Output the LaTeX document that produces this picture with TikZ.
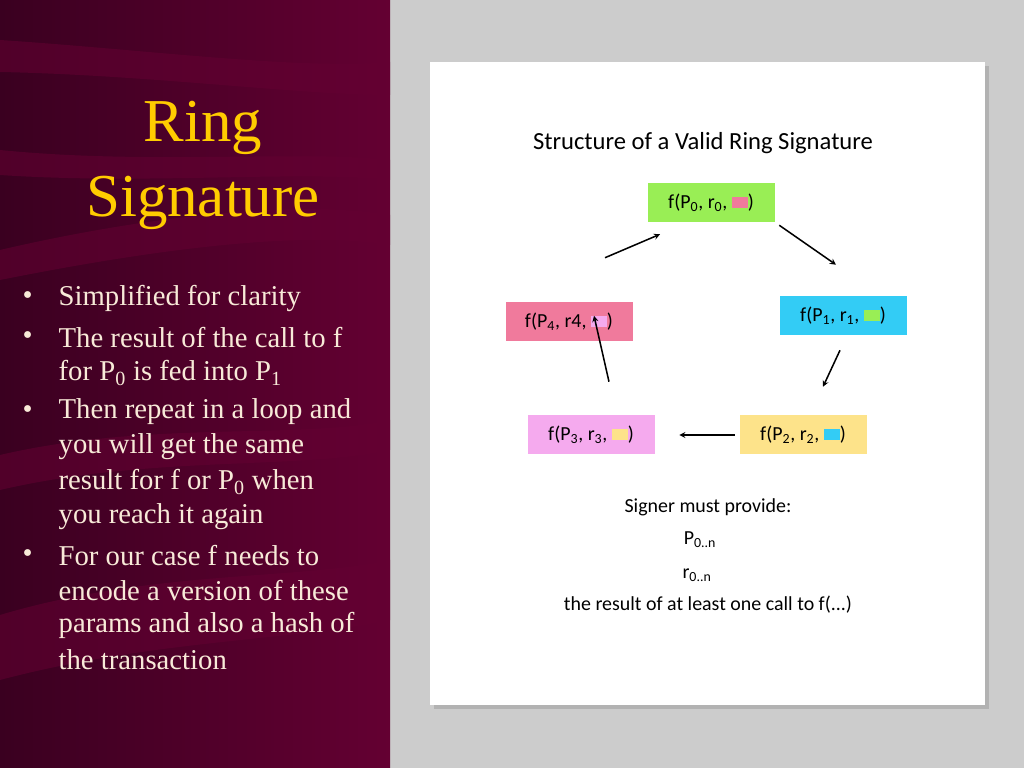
\documentclass[tikz,border=0pt]{standalone}
\usepackage{fontspec}
\setmainfont{Liberation Serif}
\newfontfamily\calibrifont{Carlito}
\usetikzlibrary{arrows,positioning}
\definecolor{maroondark}{HTML}{3A0020}
\definecolor{maroonlite}{HTML}{640032}
\definecolor{gold}{HTML}{FFCC00}
\definecolor{cream}{HTML}{F8EAD8}
\definecolor{greenbox}{HTML}{99EE55}
\definecolor{cyanbox}{HTML}{33CCF5}
\definecolor{pinkbox}{HTML}{F07A9C}
\definecolor{lilacbox}{HTML}{F5AAEE}
\definecolor{yellowbox}{HTML}{FDE38A}
\newcommand{\swatch}[1]{\textcolor{#1}{\rule[0.05em]{0.8em}{0.55em}}}
\newcommand{\fcall}[3]{f(P\textsubscript{#1}, r#2, \swatch{#3})}
\begin{document}
\begin{tikzpicture}[x=0.03cm,y=-0.03cm,->,>=stealth,line width=1.3pt,
  fbox/.style={draw=none,fill=#1,minimum width=3.81cm,minimum height=1.17cm,
    inner sep=0pt,font=\calibrifont\fontsize{17}{20}\selectfont,text=black},
  bullet/.style={anchor=west,text=cream,font=\fontsize{24.5}{29}\selectfont},
  note/.style={font=\calibrifont\fontsize{17}{20}\selectfont}]
  \useasboundingbox (0,0) rectangle (1024,768);
  % backgrounds
  \fill[gray!40] (390,0) rectangle (1024,768);
  \shade[left color=maroondark,right color=maroonlite,draw=none] (0,0) rectangle (390,768);
  \begin{scope}[draw=none,fill=maroonlite,opacity=0.55]
    \fill (0,40) .. controls (150,50) and (300,70) .. (390,62) -- (390,95) .. controls (300,95) and (150,75) .. (0,72) -- cycle;
    \fill (0,150) .. controls (150,165) and (300,150) .. (390,160) -- (390,180) .. controls (300,170) and (150,185) .. (0,175) -- cycle;
    \fill (0,250) .. controls (150,215) and (300,200) .. (390,215) -- (390,245) .. controls (300,230) and (150,250) .. (0,280) -- cycle;
    \fill (0,455) .. controls (150,420) and (300,440) .. (390,420) -- (390,450) .. controls (300,470) and (150,455) .. (0,490) -- cycle;
    \fill (0,615) .. controls (150,570) and (300,580) .. (390,560) -- (390,620) .. controls (300,640) and (150,640) .. (0,680) -- cycle;
  \end{scope}
  % card
  \fill[gray!60] (434,66) rectangle (989,709);
  \fill[white] (430,62) rectangle (985,705);
  % title and bullets
  \node[text=gold,font=\fontsize{52}{60}\selectfont] (ring) at (203,128) {Ring};
  \node[text=gold,font=\fontsize{52}{60}\selectfont] (signature) at (203,203) {Signature};
  \foreach \y/\t in {298/Simplified for clarity,
      338/The result of the call to f,
      373/for P\textsubscript{0} is fed into P\textsubscript{1},
      412/Then repeat in a loop and,
      447/you will get the same,
      482/result for f or P\textsubscript{0} when,
      517/you reach it again,
      556/For our case f needs to,
      591/encode a version of these,
      625/params and also a hash of,
      660/the transaction}
    \node[bullet] at (54,\y) {\t};
  \foreach \y in {298,338,412,556}
    \node[bullet] at (18,\y) {\textbullet};
  % ring diagram
  \node[font=\calibrifont\fontsize{21}{24}\selectfont] (head) at (703,143) {Structure of a Valid Ring Signature};
  \node[fbox=greenbox]  (F0) at (711,203) {\fcall{0}{\textsubscript{0}}{pinkbox}};
  \node[fbox=cyanbox]   (F1) at (843,316) {\fcall{1}{\textsubscript{1}}{greenbox}};
  \node[fbox=yellowbox] (F2) at (803,435) {\fcall{2}{\textsubscript{2}}{cyanbox}};
  \node[fbox=lilacbox]  (F3) at (591,435) {\fcall{3}{\textsubscript{3}}{yellowbox}};
  \node[fbox=pinkbox]   (F4) at (569,322) {\fcall{4}{4}{lilacbox}};
  \draw ([shift={(4,2)}]F0.south east) -- ([shift={(-7,-31)}]F1.north);
  \draw ([shift={(-3,14)}]F1.south) -- ([shift={(20,-28)}]F2.north);
  \draw ([shift={(-4,0)}]F2.west) -- ([shift={(24,0)}]F3.east);
  \draw ([shift={(18,-33)}]F3.north) -- ([shift={(25,14)}]F4.north);
  \draw ([shift={(36,-44)}]F4.north) -- ([shift={(-51,11)}]F0.south);
  % signer note
  \node[note] (must) at (708,507) {Signer must provide:};
  \node[note] (pn) at (700,540) {P\textsubscript{0..n}};
  \node[note] (rn) at (697,575) {r\textsubscript{0..n}};
  \node[note] (res) at (708,605) {the result of at least one call to f(...)};
\end{tikzpicture}
\end{document}
